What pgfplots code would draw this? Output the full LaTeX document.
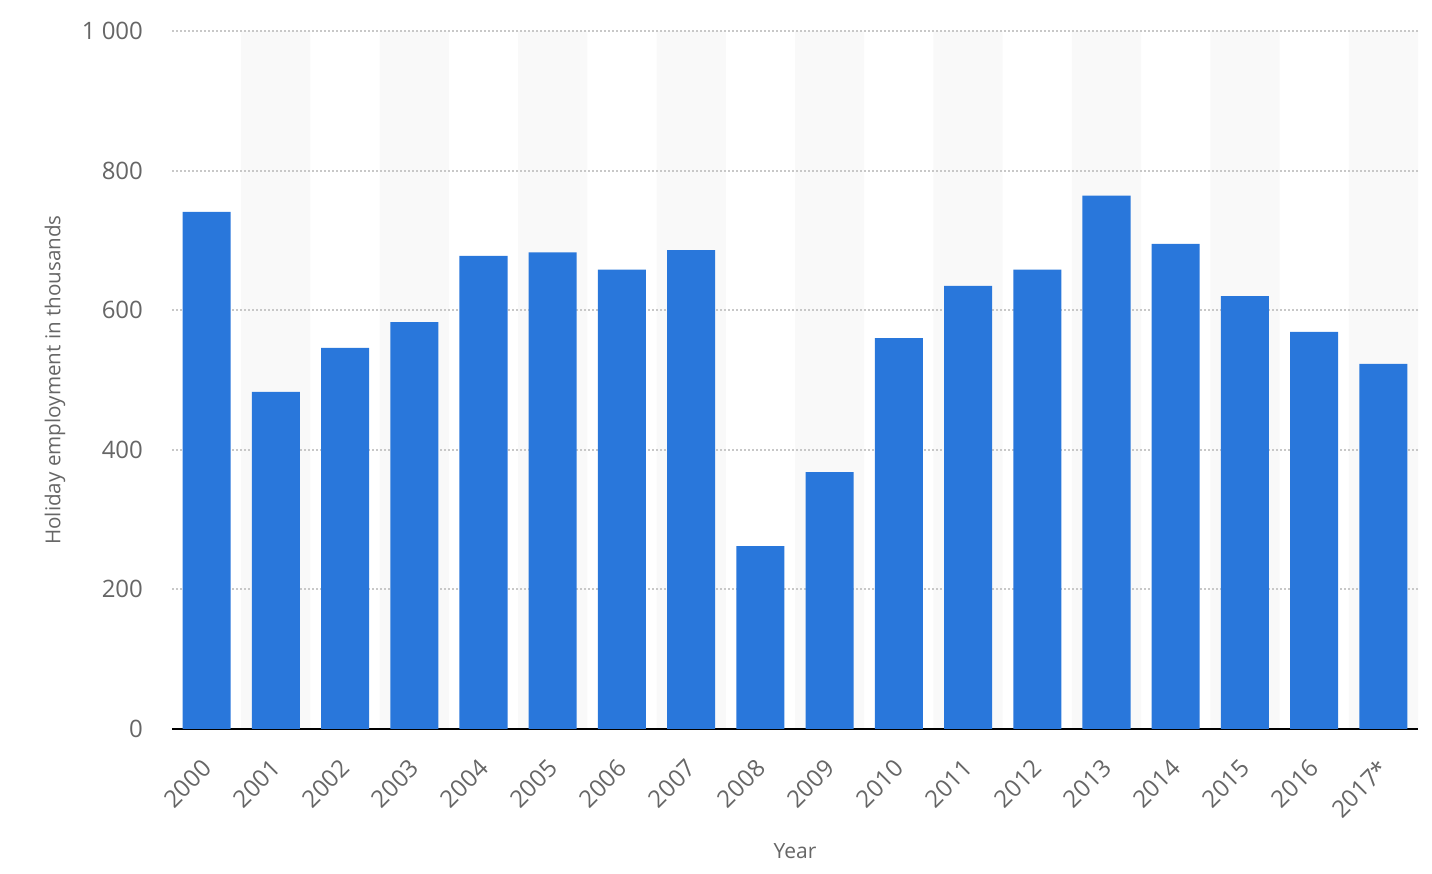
\documentclass[border=0pt]{standalone}
\usepackage{fontspec}
\setmainfont{Open Sans}
\usepackage{pgfplots}
\pgfplotsset{compat=1.18}
\definecolor{barblue}{HTML}{2977DB}
\definecolor{band}{HTML}{F9F9F9}
\definecolor{txt}{HTML}{666666}
\definecolor{gridc}{HTML}{C8C8C8}
\begin{document}
\begin{tikzpicture}
\begin{axis}[
  at={(86pt,72.5pt)}, anchor=south west,
  scale only axis, width=623pt, height=349pt,
  set layers,
  xmin=-0.5, xmax=17.5, ymin=0, ymax=1000,
  xtick={0,...,17},
  xticklabels={2000,2001,2002,2003,2004,2005,2006,2007,2008,2009,2010,2011,2012,2013,2014,2015,2016,2017*},
  x tick label style={xshift=-3pt, yshift=-13.5pt, rotate=45, anchor=north east, font=\fontsize{12}{14}\selectfont, text=txt, inner sep=0.5pt},
  ytick={0,200,400,600,800,1000},
  yticklabels={0,200,400,600,800,1 000},
  y tick label style={font=\fontsize{12}{14}\selectfont, text=txt, xshift=-11pt},
  major tick length=0pt,
  axis x line*=bottom, axis y line*=left,
  y axis line style={draw=none},
  x axis line style={black, line width=1pt, -},
  ymajorgrids, grid style={gridc, line width=1pt, dash pattern=on 1pt off 1pt},
  xlabel={Year}, ylabel={Holiday employment in thousands},
  xlabel style={at={(axis description cs:0.5,-0.1748)}, anchor=center, font=\fontsize{10.5}{12}\selectfont, text=txt},
  ylabel style={at={(axis description cs:-0.0939,0.5)}, anchor=center, font=\fontsize{10.3}{12}\selectfont, text=txt},
]
\addplot[ybar, bar width=1, bar shift=0pt, fill=band, draw=none, on layer=axis background]
  coordinates {(1,1000) (3,1000) (5,1000) (7,1000) (9,1000) (11,1000) (13,1000) (15,1000) (17,1000)};
\addplot[ybar, bar width=0.694, bar shift=0pt, fill=barblue, draw=none]
  coordinates {(0,741) (1,483) (2,546) (3,583) (4,678) (5,683) (6,658) (7,686) (8,262) (9,368) (10,560) (11,635) (12,658) (13,764) (14,695) (15,620) (16,569) (17,523)};
\end{axis}
\path (0,0) rectangle (716pt,437pt);
\end{tikzpicture}
\end{document}
